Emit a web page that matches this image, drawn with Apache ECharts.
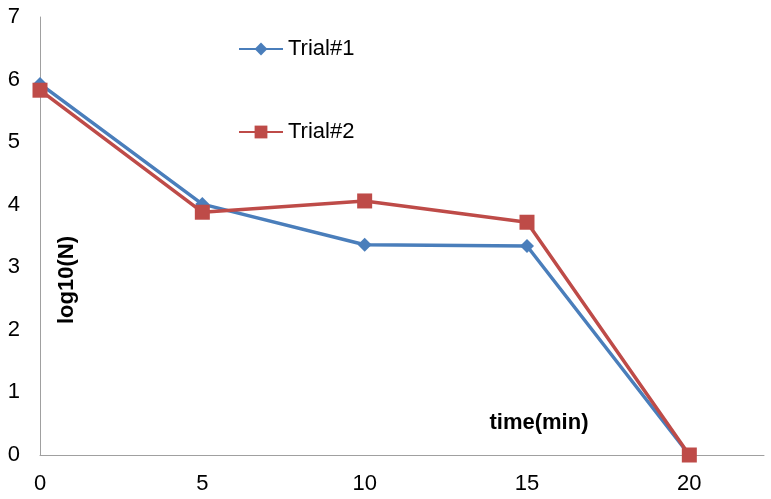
<!DOCTYPE html>
<html>
<head>
<meta charset="utf-8">
<script src="https://cdn.jsdelivr.net/npm/echarts@6/dist/echarts.min.js"></script>
<style>
  html, body { margin: 0; padding: 0; background: #fff; }
  #chart { width: 771px; height: 499px; }
</style>
</head>
<body>
<div id="chart"></div>
<script>
// time (min) and log10(N) for the two trials
var times = [0, 5, 10, 15, 20];
var trial1 = [5.93, 4.01, 3.36, 3.34, 0];
var trial2 = [5.83, 3.88, 4.06, 3.72, 0];
var seriesNames = ["Trial#1", "Trial#2"];

function pairs(xs, ys) {
  return xs.map(function (x, i) { return [x, ys[i]]; });
}

var myChart = echarts.init(document.getElementById("chart"));
var font = "Liberation Sans, Arial, sans-serif";

var option = {
  animation: false,
  grid: { left: 40, right: 7, top: 17, bottom: 44 },
  legend: {
    orient: "vertical",
    left: 233,
    top: 33,
    itemWidth: 44,
    itemHeight: 16,
    itemGap: 61,
    textStyle: { fontFamily: font, fontSize: 22, color: "#000" },
    data: seriesNames
  },
  xAxis: {
    type: "value",
    min: 0,
    max: 22.3,
    interval: 5,
    splitLine: { show: false },
    axisTick: { show: false },
    axisLine: { lineStyle: { color: "#a0a0a0", width: 1 } },
    axisLabel: { showMaxLabel: false, fontFamily: font, fontSize: 22, color: "#000", margin: 18 }
  },
  yAxis: {
    type: "value",
    min: 0,
    max: 7,
    interval: 1,
    splitLine: { show: false },
    axisTick: { show: false },
    axisLine: { show: true, lineStyle: { color: "#a0a0a0", width: 1 } },
    axisLabel: { fontFamily: font, fontSize: 22, color: "#000", margin: 20 }
  },
  graphic: [
    {
      type: "text",
      x: 539, y: 423,
      style: { text: "time(min)", fontFamily: font, fontWeight: "bold", fontSize: 22, fill: "#000", align: "center", verticalAlign: "middle" }
    },
    {
      type: "text",
      x: 67, y: 280,
      rotation: Math.PI / 2,
      style: { text: "log10(N)", fontFamily: font, fontWeight: "bold", fontSize: 22, fill: "#000", align: "center", verticalAlign: "middle" }
    }
  ],
  series: [
    {
      name: seriesNames[0],
      type: "line",
      data: pairs(times, trial1),
      symbol: "diamond",
      symbolSize: 14,
      itemStyle: { color: "#4a7ebb" },
      lineStyle: { width: 3.5, color: "#4a7ebb" }
    },
    {
      name: seriesNames[1],
      type: "line",
      data: pairs(times, trial2),
      symbol: "rect",
      symbolSize: 15,
      itemStyle: { color: "#be4b48" },
      lineStyle: { width: 3.5, color: "#be4b48" }
    }
  ]
};

if (option && typeof option === "object") {
  myChart.clear();
  myChart.setOption(option, true);
}
</script>
</body>
</html>
